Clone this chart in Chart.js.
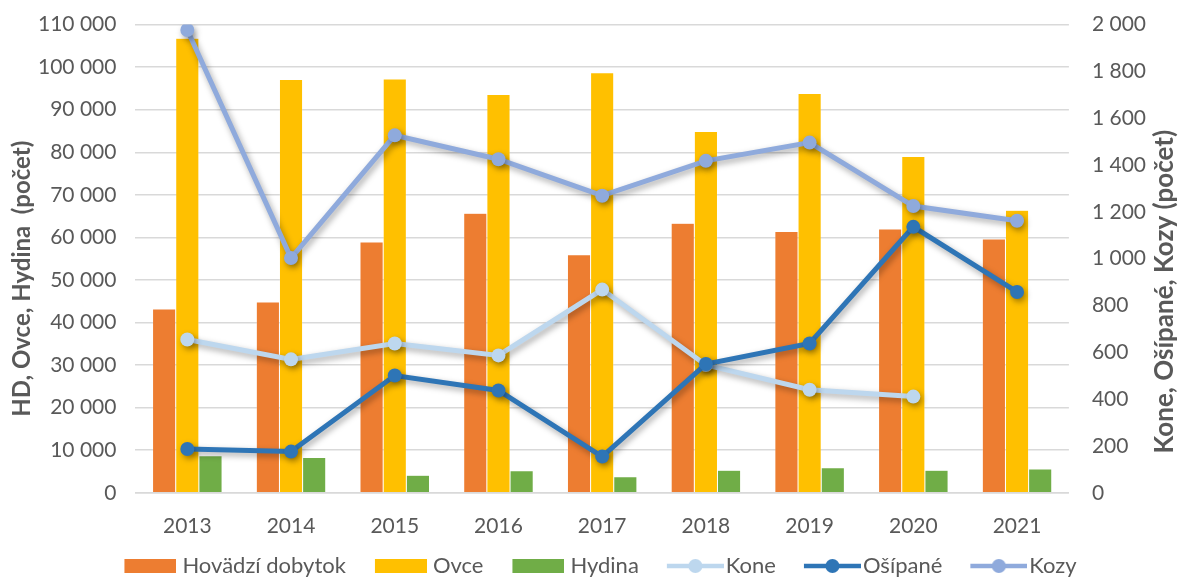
<!DOCTYPE html>
<html>
<head>
<meta charset="utf-8">
<script src="https://cdn.jsdelivr.net/npm/chart.js@4/dist/chart.umd.min.js"></script>
<style>
  html, body { margin: 0; padding: 0; background: #fff; }
  #wrap { width: 1180px; height: 577px; }
</style>
</head>
<body>
<div id="wrap"><canvas id="chart"></canvas></div>
<script>
const years = ['2013', '2014', '2015', '2016', '2017', '2018', '2019', '2020', '2021'];

// left axis (bars)
const hovadziDobytok = [43200, 44800, 58900, 65700, 55900, 63300, 61400, 62000, 59600];
const ovce = [106800, 97100, 97200, 93600, 98700, 84900, 93800, 79000, 66400];
const hydina = [8700, 8300, 4100, 5200, 3800, 5300, 5900, 5300, 5600];

// right axis (lines)
const kone = [655, 570, 638, 587, 868, 546, 440, 411, null];
const osipane = [187, 176, 501, 437, 155, 550, 638, 1136, 858];
const kozy = [1977, 1003, 1527, 1425, 1269, 1418, 1496, 1225, 1162];

const leftTitle = 'HD, Ovce, Hydina  (počet)';
const rightTitle = 'Kone, Ošípané, Kozy (počet)';

const FONT = 'Lato, "Open Sans", sans-serif';
const TEXT = '#595959';
const GRID = '#d9d9d9';
const LEG_FONT = 22;
const LEG_W = 76;

const fmt = v => String(v).replace(/\B(?=(\d{3})+(?!\d))/g, ' ');

// legend symbols: canvas is centred on the legend box, icon sits at its right end
function iconCanvas(iw, gap, h, draw) {
  const right = LEG_W / 2 + LEG_FONT / 2 - gap;
  const c = document.createElement('canvas');
  c.width = Math.round(right * 2); c.height = h;
  const g = c.getContext('2d');
  draw(g, c.width - iw, iw);
  return c;
}
const boxIcon = color => iconCanvas(52, 6, 14, (g, x0, iw) => {
  g.fillStyle = color;
  g.fillRect(x0, 0, iw, 14);
});
const lineIcon = color => iconCanvas(57, 2, 16, (g, x0, iw) => {
  g.strokeStyle = color;
  g.lineWidth = 4.5;
  g.beginPath(); g.moveTo(x0, 8); g.lineTo(x0 + iw, 8); g.stroke();
  g.fillStyle = color;
  g.beginPath(); g.arc(x0 + iw / 2, 8, 7, 0, Math.PI * 2); g.fill();
});

const lineShadow = {
  id: 'lineShadow',
  beforeDatasetDraw(chart, args) {
    const ctx = chart.ctx;
    ctx.save();
    if (args.meta.type === 'line') {
      ctx.shadowColor = 'rgba(0,0,0,0.35)';
      ctx.shadowBlur = 6;
      ctx.shadowOffsetX = 2;
      ctx.shadowOffsetY = 3;
    }
  },
  afterDatasetDraw(chart) {
    chart.ctx.restore();
  }
};

// nudge the legend row a bit lower / left
const legendNudge = {
  id: 'legendNudge',
  afterLayout(chart) {
    const l = chart.legend;
    l.top += 10; l.bottom += 10;
    l.left -= 6; l.right -= 6;
  }
};

// both axis titles read bottom-to-top
const axisTitles = {
  id: 'axisTitles',
  afterDraw(chart) {
    const ctx = chart.ctx;
    const a = chart.chartArea;
    const mid = (a.top + a.bottom) / 2;
    const put = (text, x, y, size) => {
      ctx.save();
      ctx.font = 'bold ' + size + 'px ' + FONT;
      ctx.fillStyle = TEXT;
      ctx.textAlign = 'center';
      ctx.textBaseline = 'middle';
      ctx.translate(x, y);
      ctx.rotate(-Math.PI / 2);
      ctx.fillText(text, 0, 0);
      ctx.restore();
    };
    put(leftTitle, 22, mid + 20, 24);
    put(rightTitle, chart.width - 15, mid + 33, 26);
  }
};

const barDs = (label, data, color) => ({
  type: 'bar', label, data, backgroundColor: color,
  borderColor: 'rgba(255,255,255,0.5)', borderWidth: 0.5,
  yAxisID: 'y', order: 10,
  categoryPercentage: 0.67, barPercentage: 1.0,
  icon: boxIcon(color)
});
const lineDs = (label, data, color, order) => ({
  type: 'line', label, data, borderColor: color, backgroundColor: color,
  borderWidth: 5, pointRadius: 7, pointHoverRadius: 7, pointBorderWidth: 0,
  tension: 0, spanGaps: false, yAxisID: 'y2', order,
  icon: lineIcon(color)
});

new Chart(document.getElementById('chart'), {
  data: {
    labels: years,
    datasets: [
      barDs('Hovädzí dobytok', hovadziDobytok, '#ed7d31'),
      barDs('Ovce', ovce, '#ffc000'),
      barDs('Hydina', hydina, '#70ad47'),
      lineDs('Kone', kone, '#bdd7ee', 3),
      lineDs('Ošípané', osipane, '#2e75b6', 2),
      lineDs('Kozy', kozy, '#8faadc', 1)
    ]
  },
  options: {
    responsive: true,
    maintainAspectRatio: false,
    animation: false,
    layout: { padding: { top: 2.5, left: 26, right: 22, bottom: 0 } },
    scales: {
      x: {
        grid: { display: false },
        border: { color: GRID, width: 1.5 },
        ticks: { color: TEXT, font: { family: FONT, size: 21 }, padding: 13 },
        afterFit: s => { s.height -= 7; }
      },
      y: {
        position: 'left',
        min: 0, max: 110000,
        ticks: { stepSize: 10000, color: TEXT, font: { family: FONT, size: 21 }, padding: 12, callback: v => fmt(v) },
        grid: { color: GRID, lineWidth: 1.5, drawTicks: true, tickLength: 7, tickColor: 'rgba(0,0,0,0)' },
        border: { display: false }
      },
      y2: {
        position: 'right',
        min: 0, max: 2000,
        ticks: { stepSize: 200, color: TEXT, font: { family: FONT, size: 21 }, padding: 12, callback: v => fmt(v) },
        grid: { display: true, drawOnChartArea: false, color: 'rgba(0,0,0,0)', drawTicks: true, tickLength: 11, tickColor: 'rgba(0,0,0,0)' },
        border: { display: false }
      }
    },
    plugins: {
      legend: {
        position: 'bottom',
        labels: {
          usePointStyle: true,
          pointStyleWidth: LEG_W,
          boxHeight: 14,
          padding: 0,
          color: TEXT,
          font: { family: FONT, size: LEG_FONT },
          generateLabels: chart => chart.data.datasets.map((ds, i) => ({
            text: ds.label,
            pointStyle: ds.icon,
            fontColor: TEXT,
            fillStyle: ds.backgroundColor,
            strokeStyle: ds.borderColor,
            lineWidth: 0,
            hidden: !chart.isDatasetVisible(i),
            datasetIndex: i
          }))
        }
      },
      tooltip: { enabled: false }
    }
  },
  plugins: [lineShadow, legendNudge, axisTitles]
});
</script>
</body>
</html>
